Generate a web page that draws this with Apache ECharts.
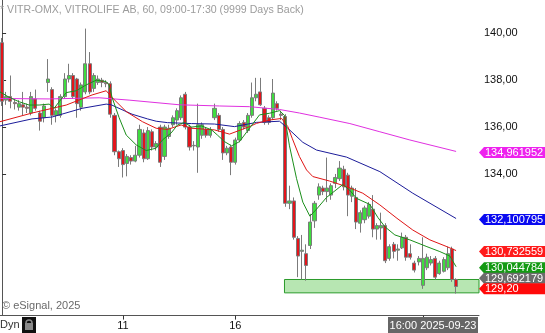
<!DOCTYPE html>
<html><head><meta charset="utf-8">
<script src="https://cdn.jsdelivr.net/npm/echarts@6/dist/echarts.min.js"></script>
<style>html,body{margin:0;padding:0;background:#fff}#c{width:545px;height:333px}</style>
</head><body><div id="c"></div>
<script>
// ---------- DATA ----------
const sessionDays = ['2025-09-05','2025-09-08','2025-09-09','2025-09-10','2025-09-11','2025-09-12','2025-09-15','2025-09-16','2025-09-17','2025-09-18','2025-09-19','2025-09-22','2025-09-23'];
const sessionHours = ['09:00','10:00','11:00','12:00','13:00','14:00','15:00','16:00','17:00'];
const firstDayHours = ['16:00','17:00'];
const emptySlots = 5;
const labeledDays = ['2025-09-11','2025-09-16'];
const tickedDays = ['2025-09-11','2025-09-16','2025-09-23'];
const yTicks = [134, 136, 138, 140];
const yRange = [127.96, 141.42];
const titleText = '* VITR-OMX, VITROLIFE AB, 60, 09:00-17:30 (9999 Days Back)';
const copyrightText = '\u00a9 eSignal, 2025';
const lastBarLabel = '16:00 2025-09-23';

// [open, close, low, high]
const ohlc = [
[139.6,137.1,136.9,139.8],[137.15,137.3,136.95,137.5],[137.3,137.1,136.8,138.2],[137.05,137.0,136.75,137.2],[136.85,137.0,136.7,137.15],
[136.95,136.85,136.5,137.5],[136.85,136.8,136.6,137.0],[136.6,137.3,136.5,137.5],[137.2,136.8,136.7,137.6],[136.6,136.25,135.85,136.7],
[136.4,136.9,136.2,137.0],[137.9,138.05,137.5,138.9],[137.6,136.5,136.1,137.7],[136.5,136.7,136.2,136.8],[136.5,137.3,136.4,137.4],
[137.3,138.05,137.2,138.3],[138.05,138.2,137.9,138.7],[138.2,137.3,137.2,138.3],[138.05,137.0,136.4,138.1],[136.85,137.8,136.7,137.9],
[137.5,138.7,137.4,140.2],[138.7,137.5,137.4,139.2],[137.65,138.2,137.5,138.3],[137.9,138.05,137.8,138.2],[138.0,137.9,137.7,138.1],
[137.9,137.85,137.7,138.0],[137.85,136.55,136.4,137.95],[136.5,134.95,134.8,136.6],[134.95,134.65,134.3,135.0],[135.0,134.4,133.85,135.1],
[134.45,134.75,133.9,134.85],[134.7,134.55,134.4,134.8],[134.55,134.8,134.5,135.2],[134.8,135.9,134.7,136.1],[135.75,134.65,134.5,135.9],
[134.65,135.85,134.6,136.0],[135.8,135.15,135.0,135.9],[135.15,135.3,135.0,135.4],[136.0,134.5,134.3,136.1],[134.75,136.0,134.6,136.1],
[135.6,135.95,135.5,136.1],[136.1,136.4,136.0,136.5],[136.3,136.7,136.1,136.8],[136.4,137.25,136.3,137.35],[137.4,136.0,135.9,137.5],
[136.0,135.15,135.0,136.1],[135.2,135.22,135.0,135.4],[135.15,136.1,134.05,137.0],[135.65,136.1,135.5,136.2],[135.9,135.65,135.55,136.0],
[135.65,135.9,135.55,136.0],[136.4,136.8,136.3,137.0],[136.5,135.9,135.8,136.6],[135.9,134.9,134.6,136.0],[134.9,135.1,134.8,135.2],
[135.15,134.5,133.95,135.25],[134.5,135.45,134.4,135.55],[135.45,136.15,135.35,136.25],[136.2,136.0,135.9,136.3],[135.85,136.5,135.75,136.6],
[136.5,137.25,136.4,137.9],[137.25,137.4,137.1,138.1],[137.5,136.95,136.9,138.1],[136.8,136.2,136.1,136.9],[136.4,136.2,136.1,136.5],
[136.4,137.45,136.3,138.05],[137.0,136.8,136.7,137.1],[136.55,136.5,136.3,136.7],[136.45,132.75,132.6,136.55],[132.75,132.85,132.5,133.5],
[132.85,131.3,131.2,133.0],[131.25,130.5,129.6,131.35],[130.7,130.75,129.5,131.4],[130.6,130.1,129.45,131.0],[130.95,131.95,130.8,132.3],
[132.0,132.75,131.7,132.85],[133.1,133.45,132.9,133.6],[133.4,133.25,133.1,133.5],[133.25,133.4,132.8,134.7],[133.1,133.5,132.9,133.6],
[133.6,133.85,133.4,134.0],[133.8,134.25,133.7,134.55],[134.2,133.45,133.3,134.35],[133.95,133.1,132.2,134.05],[133.05,133.4,132.8,133.5],
[133.0,131.95,131.65,133.4],[131.9,132.35,131.5,132.45],[132.05,132.55,131.9,132.65],[132.2,132.7,132.1,132.8],[132.5,131.65,131.3,133.1],
[131.65,131.8,131.2,131.9],[131.7,131.8,131.2,132.35],[131.8,130.3,130.2,131.9],[130.4,130.9,130.3,131.0],[131.0,130.7,130.4,131.1],
[130.75,130.8,130.3,131.0],[130.85,131.3,130.8,131.5],[131.3,130.45,130.3,131.4],[130.6,130.45,130.35,131.0],[130.2,129.9,129.8,130.3],
[130.25,130.4,130.1,130.5],[129.25,130.4,129.1,131.3],[130.0,130.45,129.9,130.6],[130.2,130.35,130.1,130.5],[130.4,129.6,129.5,130.5],
[129.75,130.2,129.7,130.3],[129.85,130.35,129.8,130.45],[130.0,130.6,129.9,130.9],[130.8,129.5,129.4,130.9],[129.5,129.2,128.9,129.55]
];

// moving-average lines: [bar position, value]
const maFast = [[-0.5,137.5],[1.7,137.27],[4.1,137.08],[6.5,136.94],[8.9,136.94],[11.3,136.98],[12.5,136.8],[13.7,137.08],[15.4,137.47],[17.8,137.55],[20.2,137.8],[22.6,138.0],[25.0,137.94],[25.7,137.8],[26.4,137.27],[28.1,136.4],[29.8,135.66],[32.2,135.24],[34.6,135.0],[37.0,135.1],[38.5,135.45],[40.6,135.75],[42.1,136.09],[43.8,136.2],[45.5,136.0],[47.9,136.05],[50.3,135.88],[51.7,135.66],[53.4,135.38],[55.1,135.2],[57.0,135.38],[59.4,135.95],[61.8,136.52],[64.2,136.59],[66.6,136.7],[67.8,136.5],[69.0,135.2],[70.7,133.8],[72.2,132.8],[73.9,132.2],[75.5,132.5],[77.9,133.0],[80.4,133.35],[81.8,133.55],[83.5,133.3],[85.1,132.96],[88.3,132.7],[90.2,132.15],[91.9,131.75],[94.3,131.4],[97.9,131.19],[102.0,130.9],[105.1,130.69],[107.5,130.5],[109,130.044784]];
const maMid = [[-0.5,136.23],[7.2,136.6],[15.4,136.94],[21.6,137.37],[25.0,137.55],[26.2,137.3],[29.8,136.66],[33.7,136.23],[37.0,135.95],[39.7,135.9],[43.0,136.09],[45.5,135.95],[51.0,135.88],[54.6,135.7],[59.4,136.02],[61.1,136.16],[64.2,136.3],[67.1,136.37],[68.6,136.02],[69.7,135.5],[71.4,134.74],[73.1,134.17],[74.6,133.89],[78.6,133.7],[82.7,133.46],[86.6,133.18],[90.7,132.68],[94.8,132.11],[98.6,131.61],[102.7,131.19],[106.8,130.9],[109,130.732559]];
const maSlow = [[-0.5,136.05],[7.2,136.35],[12.0,136.43],[19.2,136.8],[25.0,136.98],[26.2,136.95],[31.2,136.55],[34.9,136.35],[37.0,136.25],[39.7,136.19],[45.5,136.15],[51.0,136.13],[55.8,136.02],[61.1,136.2],[66.6,136.25],[68.6,135.95],[72.2,135.35],[75.5,135.02],[82.7,134.72],[90.7,134.1],[98.6,133.18],[109,132.100795]];
const maLong = [[-0.5,137.22],[11.3,137.2],[23.3,137.25],[30.5,137.15],[42.6,136.95],[52.2,136.9],[59.4,136.87],[66.6,136.75],[71.4,136.6],[76.3,136.42],[83.5,136.15],[90.7,135.8],[97.9,135.45],[109,134.961952]];
const grayLevel = 129.692179;
const zoneBars = [67.8, 114.5];
const zoneValues = [129.5, 128.93];

// ---------- BUILD ----------
const categories = [];
sessionDays.forEach((d, k) => {
  (k === 0 ? firstDayHours : sessionHours).forEach(h => categories.push(d + ' ' + h));
});
for (let k = 0; k < emptySlots; k++) categories.push('');
const N = categories.length;
const firstBarOf = {};
categories.forEach((c, i) => { const d = c.slice(0, 10); if (d && firstBarOf[d] === undefined) firstBarOf[d] = i; });
const labelIdx = new Set(labeledDays.map(d => firstBarOf[d]));
const tickIdx = new Set(tickedDays.map(d => firstBarOf[d]));

const FONT = '"Liberation Sans", Arial, sans-serif';
const GREEN = '#3fdc3f', RED = '#e3141b', EDGE = '#7b7b7b';
const C_FAST = '#1b8f1b', C_MID = '#e01515', C_SLOW = '#1c1c9a', C_LONG = '#e030e0';

const chart = echarts.init(document.getElementById('c'), null, {renderer: 'canvas'});
chart.setOption({
  animation: false,
  backgroundColor: '#fff',
  grid: {left: 0, top: 0, width: 479, height: 315.6, containLabel: false, outerBoundsMode: 'none'},
  xAxis: [{
    type: 'category', data: categories, boundaryGap: true,
    axisLine: {show: true, lineStyle: {color: '#555', width: 1}},
    axisTick: {show: true, alignWithLabel: true, length: 4, interval: (i) => tickIdx.has(i), lineStyle: {color: '#333'}},
    axisLabel: {show: true, interval: (i) => labelIdx.has(i), formatter: v => String(parseInt(v.slice(8, 10), 10)), color: '#111', fontSize: 11, fontFamily: FONT, margin: 5},
    splitLine: {show: false}
  }, {
    type: 'value', min: -0.5, max: N - 0.5, show: false, splitLine: {show: false}
  }],
  yAxis: [{
    type: 'value', position: 'right', min: yRange[0], max: yRange[1],
    splitLine: {show: false},
    axisLine: {show: true, lineStyle: {color: '#555', width: 1}},
    axisTick: {show: true, length: 4, customValues: yTicks, lineStyle: {color: '#333'}},
    axisLabel: {customValues: yTicks, formatter: v => v.toFixed(2).replace('.', ','), color: '#111', fontSize: 11, fontFamily: FONT, margin: 5}
  }],
  series: [
    {
      type: 'line', xAxisIndex: 1, data: [], z: 1, silent: true,
      markArea: {silent: true, itemStyle: {color: '#b7e6b2', borderColor: '#2a9a2a', borderWidth: 1},
        data: [[{xAxis: zoneBars[0], yAxis: zoneValues[0]}, {xAxis: zoneBars[1], yAxis: zoneValues[1]}]]}
    },
    {
      type: 'candlestick', data: ohlc, z: 3, barWidth: 3.6,
      itemStyle: {color: GREEN, color0: RED, borderColor: EDGE, borderColor0: EDGE, borderColorDoji: EDGE, borderWidth: 1}
    },
    {type: 'line', xAxisIndex: 1, data: maLong, showSymbol: false, z: 4, lineStyle: {color: C_LONG, width: 1}},
    {type: 'line', xAxisIndex: 1, data: maSlow, showSymbol: false, z: 4, lineStyle: {color: C_SLOW, width: 1}},
    {type: 'line', xAxisIndex: 1, data: maMid, showSymbol: false, z: 4, lineStyle: {color: C_MID, width: 1}},
    {type: 'line', xAxisIndex: 1, data: maFast, showSymbol: false, z: 4, lineStyle: {color: C_FAST, width: 1}}
  ]
});

// ---------- TAGS & TEXT ----------
const fmt6 = v => v.toFixed(6).replace('.', ',');
const fmt2 = v => v.toFixed(2).replace('.', ',');
const tags = [
  {v: maLong[maLong.length - 1][1], t: fmt6(maLong[maLong.length - 1][1]), c: '#ee22ee'},
  {v: maSlow[maSlow.length - 1][1], t: fmt6(maSlow[maSlow.length - 1][1]), c: '#0a0af0'},
  {v: maMid[maMid.length - 1][1], t: fmt6(maMid[maMid.length - 1][1]), c: '#ff1a1a'},
  {v: maFast[maFast.length - 1][1], t: fmt6(maFast[maFast.length - 1][1]), c: '#139a13'},
  {v: grayLevel, t: fmt6(grayLevel), c: '#6b6b6b'},
  {v: ohlc[ohlc.length - 1][1], t: fmt2(ohlc[ohlc.length - 1][1]), c: '#ff0a0a'}
];
tags.forEach(g => g.y = chart.convertToPixel({yAxisIndex: 0}, g.v) + 1);
tags.sort((a, b) => a.y - b.y);
for (let k = 1; k < tags.length; k++) if (tags[k].y < tags[k - 1].y + 10.5) tags[k].y = tags[k - 1].y + 10.5;

const gfx = [
  {type: 'text', x: 0, y: 10, z: 50, style: {text: titleText, fill: '#9c9c9c', fontSize: 10.6, fontFamily: FONT, verticalAlign: 'middle'}},
  {type: 'text', x: 2, y: 306, z: 50, style: {text: copyrightText, fill: '#6a6a6a', fontSize: 11, fontFamily: FONT, verticalAlign: 'middle'}},
  {type: 'text', x: 0, y: 325, z: 50, style: {text: 'Dyn', fill: '#333', fontSize: 11, fontFamily: FONT, verticalAlign: 'middle'}},
  {type: 'rect', z: 50, shape: {x: 22, y: 317, width: 14, height: 16}, style: {fill: '#111'}},
  {type: 'arc', z: 51, shape: {cx: 29, cy: 323, r: 3, startAngle: Math.PI, endAngle: 2 * Math.PI}, style: {stroke: '#8a8a8a', lineWidth: 1.5, fill: null}},
  {type: 'rect', z: 51, shape: {x: 25, y: 323, width: 8, height: 7}, style: {fill: '#8a8a8a'}},
  {type: 'rect', z: 50, shape: {x: 388, y: 317, width: 90, height: 16}, style: {fill: '#666'}},
  {type: 'text', x: 433, y: 325.5, z: 51, style: {text: lastBarLabel, fill: '#fff', fontSize: 11, fontFamily: FONT, align: 'center', verticalAlign: 'middle'}}
];
tags.forEach(g => {
  gfx.push({type: 'polygon', z: 60, shape: {points: [[479, g.y], [484, g.y - 5.5], [545, g.y - 5.5], [545, g.y + 5.5], [484, g.y + 5.5]]}, style: {fill: g.c}});
  gfx.push({type: 'text', z: 61, x: 485, y: g.y + 0.5, style: {text: g.t, fill: '#fff', fontSize: 11, fontFamily: FONT, verticalAlign: 'middle'}});
});
chart.setOption({graphic: gfx});
</script>
</body></html>
